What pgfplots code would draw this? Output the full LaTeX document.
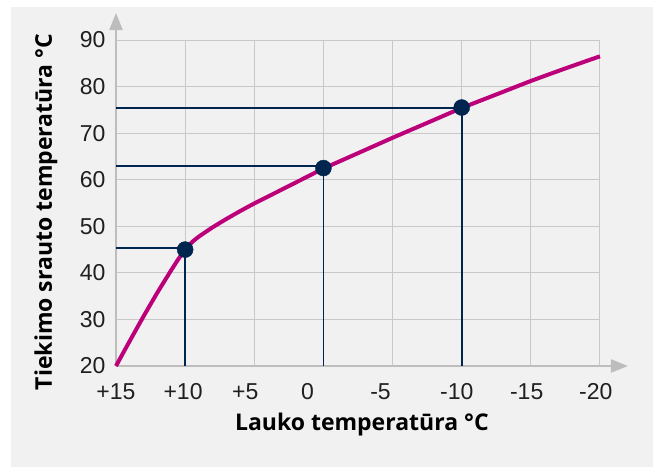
\documentclass[border=0pt]{standalone}
\usepackage{fontspec}
\setmainfont{Liberation Sans}
\newfontfamily\labelfont{Open Sans}
\usepackage{pgfplots}
\pgfplotsset{compat=1.18}
\usetikzlibrary{arrows.meta}

\definecolor{bgGray}{HTML}{F1F1F1}
\definecolor{gridGray}{HTML}{C8C8C8}
\definecolor{axisGray}{HTML}{BDBDBD}
\definecolor{navy}{HTML}{00264F}
\definecolor{curveMag}{RGB}{187,0,122}

\begin{document}
\begin{tikzpicture}[x=1pt,y=1pt]
% page and grey panel
\path[use as bounding box, fill=white] (-116,-101) rectangle (537,366);
\fill[bgGray] (-105,-101) rectangle (537,359);

\begin{axis}[
  at={(0,0)}, anchor=south west,
  scale only axis,
  width=484pt, height=326pt,
  x dir=reverse,
  xmin=-20, xmax=15,
  ymin=20, ymax=90,
  axis line style={draw=none},
  tick style={draw=none},
  major tick length=0pt,
  % grid on the minor ticks so that the labels can sit a little off them
  minor xtick={15,10,5,0,-5,-10,-15,-20},
  xtick={15,10.15,5.65,1.15,-4.13,-9.64,-14.7,-19.7},
  xticklabels={+15,+10,+5,0,-5,-10,-15,-20},
  ytick={20,30,...,90},
  xminorgrids=true, ymajorgrids=true,
  minor grid style={gridGray, line width=1pt},
  major grid style={gridGray, line width=1pt},
  /pgf/number format/assume math mode=true,
  tick label style={font=\fontsize{23}{23}\selectfont, text=black!88},
  xticklabel style={yshift=-14pt},
  yticklabel style={xshift=-7pt},
  xlabel={Lauko temperatūra °C},
  ylabel={Tiekimo srauto temperatūra °C},
  label style={font=\labelfont\bfseries\fontsize{23}{23}\selectfont},
  xlabel style={at={(axis description cs:0.508,-0.181)}, anchor=center},
  ylabel style={at={(axis description cs:-0.1446,0.4724)}, anchor=center, rotate=0},
  clip=false,
]
% axes with arrows
\draw[axisGray, line width=2pt, -{Triangle[width=13pt,length=17pt]}]
  (axis cs:15,20) -- ([xshift=28pt]axis cs:-20,20);
\draw[axisGray, line width=2pt, -{Triangle[width=13pt,length=17pt]}]
  (axis cs:15,20) -- ([yshift=27pt]axis cs:15,90);

% reading lines
\addplot[navy, line width=1.8pt] coordinates {(10,20) (10,45)};
\addplot[navy, line width=1.8pt] coordinates {(15,45.3) (10,45.3)};
\addplot[navy, line width=1.8pt] coordinates {(0,20) (0,62.5)};
\addplot[navy, line width=1.8pt] coordinates {(15,63) (0,63)};
\addplot[navy, line width=1.8pt] coordinates {(-10,20) (-10,75.5)};
\addplot[navy, line width=1.8pt] coordinates {(15,75.4) (-10,75.4)};

% heating curve
\addplot[curveMag, line width=4pt, smooth, tension=0.3, line join=round] coordinates {
  (15,20) (14,25.4) (13,30.7) (12,35.8) (11,40.6) (10.5,42.9) (10,45.0)
  (9.5,46.6) (9,47.8) (8,49.8) (7,51.6) (6,53.3) (5,54.9) (4,56.4)
  (3,57.9) (2,59.4) (1,60.9) (0,62.4) (-2.5,65.7) (-5,69.0) (-7.5,72.2)
  (-10,75.4) (-12.5,78.3) (-15,81.2) (-17.5,83.9) (-20,86.5)
};

% marked points
\addplot[only marks, mark=*, mark size=8pt, navy] coordinates {
  (10,45) (0,62.5) (-10,75.5)
};
\end{axis}
\end{tikzpicture}
\end{document}
